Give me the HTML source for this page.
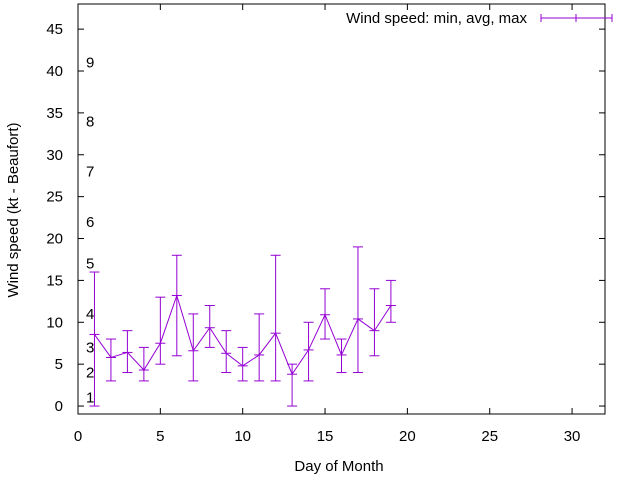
<!DOCTYPE html>
<html><head><meta charset="utf-8"><style>
body{margin:0;background:#fff}
svg{display:block;font-family:"Liberation Sans",sans-serif;font-size:15px}
</style></head><body>
<svg id="chart" width="640" height="480">
<rect x="0" y="0" width="640" height="480" fill="#fff"/>
<g id="axes"></g>
<g id="marks"></g>
<text x="18" y="210" text-anchor="middle" transform="rotate(-90 18 210)">Wind speed (kt - Beaufort)</text>
<text x="339" y="471" text-anchor="middle">Day of Month</text>
<g>
<text x="527" y="23" text-anchor="end">Wind speed: min, avg, max</text>
<line x1="541" y1="18" x2="612" y2="18" stroke="#9400d3"/>
<line x1="541" y1="14" x2="541" y2="22" stroke="#9400d3"/>
<line x1="612" y1="14" x2="612" y2="22" stroke="#9400d3"/>
<line x1="576" y1="14" x2="576" y2="22" stroke="#9400d3"/>
</g>
</svg>
<script>
const days=[1,2,3,4,5,6,7,8,9,10,11,12,13,14,15,16,17,18,19];
const avgs=[8.55,5.8,6.4,4.3,7.5,13.2,6.6,9.35,6.3,4.8,6.1,8.7,3.8,6.7,10.9,6.1,10.4,9,12];
const mins=[0,3,4,3,5,6,3,7,4,3,3,3,0,3,8,4,4,6,10];
const maxs=[16,8,9,7,13,18,11,12,9,7,11,18,5,10,14,8,19,14,15];
const xTicks=[0,5,10,15,20,25,30];
const yTicks=[0,5,10,15,20,25,30,35,40,45];
const beaufortLabels=["1","2","3","4","5","6","7","8","9"];
const beaufortKt=[1,4,7,11,17,22,28,34,41];
const NS="http://www.w3.org/2000/svg";
const L=78,R=605,T=4,B=414,X0=0,X1=32,Y0=-0.95,Y1=48;
const sx=v=>L+(v-X0)/(X1-X0)*(R-L);
const sy=v=>B-(v-Y0)/(Y1-Y0)*(B-T);
function mk(p,tag,at){const e=document.createElementNS(NS,tag);for(const k in at)e.setAttribute(k,at[k]);p.appendChild(e);return e;}
const ax=document.getElementById('axes'),mg=document.getElementById('marks');
const frame=mk(ax,'rect',{x:L,y:T,width:R-L,height:B-T,fill:'none',stroke:'#000'});


xTicks.forEach(t=>{const x=sx(t);
mk(ax,'line',{x1:x,y1:B,x2:x,y2:B-6,stroke:'#000'});
mk(ax,'line',{x1:x,y1:T,x2:x,y2:T+6,stroke:'#000'});
const tx=mk(ax,'text',{x:x,y:B+27,'text-anchor':'middle'});tx.textContent=t;

});
yTicks.forEach(t=>{const y=sy(t);
mk(ax,'line',{x1:L,y1:y,x2:L+6,y2:y,stroke:'#000'});
mk(ax,'line',{x1:R,y1:y,x2:R-6,y2:y,stroke:'#000'});
const tx=mk(ax,'text',{x:63,y:y+5,'text-anchor':'end'});tx.textContent=t;

});
beaufortLabels.forEach((b,i)=>{const tx=mk(ax,'text',{x:86,y:sy(beaufortKt[i])+5});tx.textContent=b;

});
const pl=mk(mg,'polyline',{points:days.map((d,i)=>sx(d)+','+sy(avgs[i])).join(' '),fill:'none',stroke:'#9400d3'});


days.forEach((d,i)=>{const g=mk(mg,'g',{stroke:'#9400d3'});


const x=sx(d);
mk(g,'line',{x1:x,y1:sy(mins[i]),x2:x,y2:sy(maxs[i])});
[mins[i],maxs[i],avgs[i]].forEach(v=>mk(g,'line',{x1:x-5,y1:sy(v),x2:x+5,y2:sy(v)}));});
</script>
</body></html>
